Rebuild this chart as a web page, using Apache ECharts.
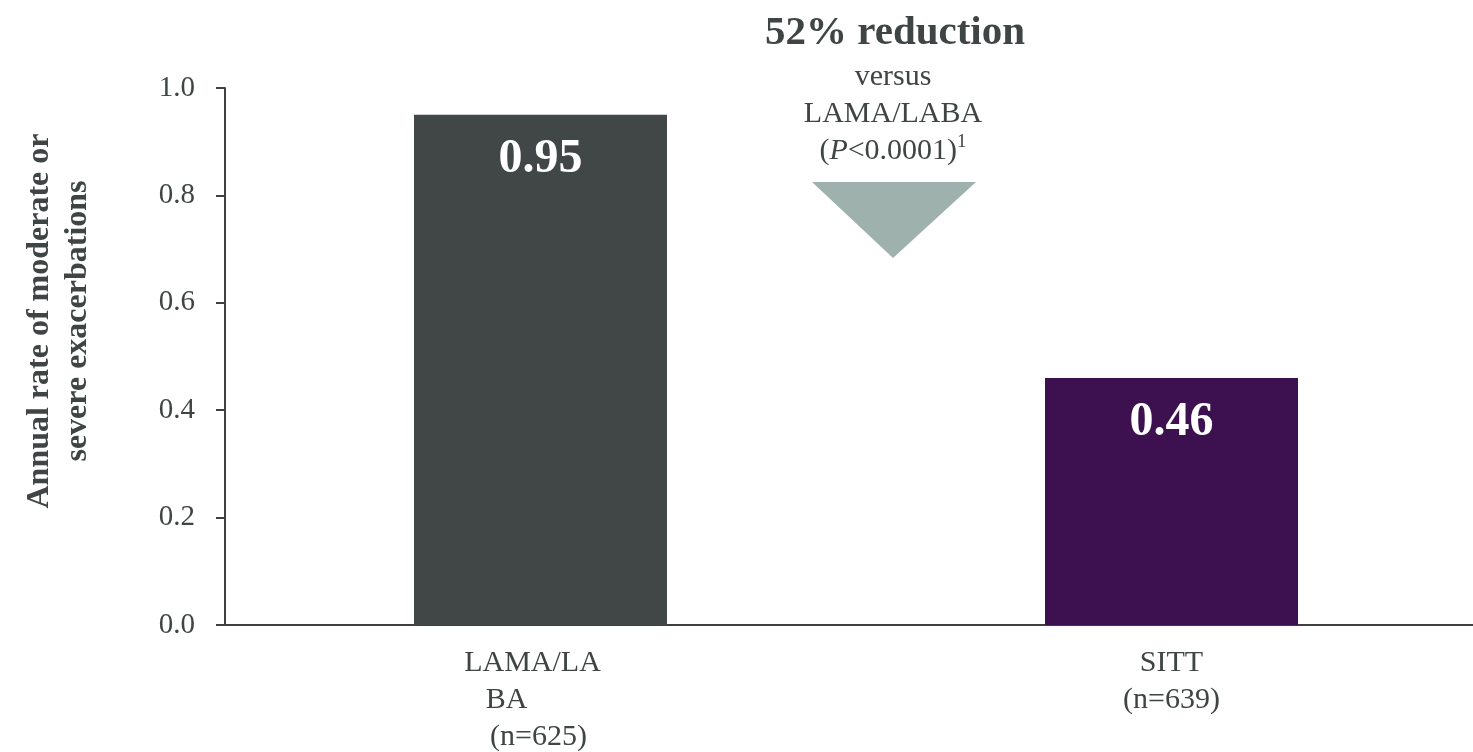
<!DOCTYPE html>
<html><head><meta charset="utf-8">
<script src="https://cdn.jsdelivr.net/npm/echarts@6/dist/echarts.min.js"></script>
<style>html,body{margin:0;padding:0;background:#fff}#c{width:1473px;height:752px}</style>
</head><body><div id="c"></div>
<script>
const categories = ['LAMA/LABA (n=625)', 'SITT (n=639)'];
const values = [0.95, 0.46];
const valueLabels = ['0.95', '0.46'];
const barColors = ['#414746', '#3d1150'];
const yTicks = [0, 0.2, 0.4, 0.6, 0.8, 1.0];
const yName = ['Annual rate of moderate or', 'severe exacerbations'];
const annotation = { title: '52% reduction', lines: ['versus', 'LAMA/LABA'] };

const FONT = '"Liberation Serif", "DejaVu Serif", serif';
const TXT = '#3f4544';

const chart = echarts.init(document.getElementById('c'));
chart.setOption({
  animation: false,
  backgroundColor: '#fff',
  grid: { left: 225, top: 88, bottom: 127, right: -14, containLabel: false, outerBoundsMode: 'none' },
  xAxis: {
    type: 'category',
    data: categories,
    axisLine: { lineStyle: { color: '#404040', width: 2 } },
    axisTick: { show: false },
    axisLabel: {
      margin: 20,
      fontFamily: FONT, fontSize: 30, color: TXT, lineHeight: 37,
      formatter: function (v, i) {
        if (i === 0) return '{a|LAMA/LA}\n{b|BA}\n{c|(n=625)}';
        return '{d|SITT}\n{d|(n=639)}';
      },
      rich: {
        a: { fontFamily: FONT, fontSize: 30, color: TXT, lineHeight: 37, padding: [0, 16, 0, 0] },
        b: { fontFamily: FONT, fontSize: 30, color: TXT, lineHeight: 37, padding: [0, 68, 0, 0] },
        c: { fontFamily: FONT, fontSize: 30, color: TXT, lineHeight: 37, padding: [0, 4, 0, 0] },
        d: { fontFamily: FONT, fontSize: 30, color: TXT, lineHeight: 37 }
      }
    }
  },
  yAxis: {
    type: 'value', min: 0, max: 1, interval: 0.2,
    axisLine: { show: true, lineStyle: { color: '#404040', width: 2 } },
    axisTick: { show: true, length: 9, lineStyle: { color: '#404040', width: 2 } },
    splitLine: { show: false },
    axisLabel: {
      margin: 30, fontFamily: FONT, fontSize: 29, color: TXT,
      formatter: function (v) { return v.toFixed(1); }
    }
  },
  series: [{
    type: 'bar',
    barWidth: 253,
    data: values.map(function (v, i) { return { value: v, itemStyle: { color: barColors[i] } }; }),
    label: {
      show: true, position: 'insideTop', distance: 21,
      fontFamily: FONT, fontSize: 48, fontWeight: 'bold', color: '#fff',
      formatter: function (p) { return valueLabels[p.dataIndex]; }
    }
  }],
  graphic: [
    {
      type: 'text', x: 59, y: 321, rotation: Math.PI / 2,
      style: {
        text: yName.join('\n'), fontFamily: FONT, fontSize: 32, fontWeight: 'bold',
        fill: TXT, align: 'center', verticalAlign: 'middle', lineHeight: 38
      }
    },
    {
      type: 'text', x: 895, y: 33,
      style: {
        text: annotation.title, fontFamily: FONT, fontSize: 41, fontWeight: 'bold',
        fill: TXT, align: 'center', verticalAlign: 'middle'
      }
    },
    {
      type: 'text', x: 893, y: 114,
      style: {
        text: annotation.lines.join('\n') + '\n({i|P}<0.0001){s|1}',
        fontFamily: FONT, fontSize: 30, fill: TXT, align: 'center', verticalAlign: 'middle', lineHeight: 37,
        rich: {
          i: { fontFamily: FONT, fontSize: 30, fontStyle: 'italic', fill: TXT },
          s: { fontFamily: FONT, fontSize: 19, fill: TXT, verticalAlign: 'top', padding: [0, 0, 4, 0] }
        }
      }
    },
    {
      type: 'polygon',
      shape: { points: [[812, 182], [976, 182], [893, 258]] },
      style: { fill: '#9fb1ac' }
    }
  ]
});
</script></body></html>
